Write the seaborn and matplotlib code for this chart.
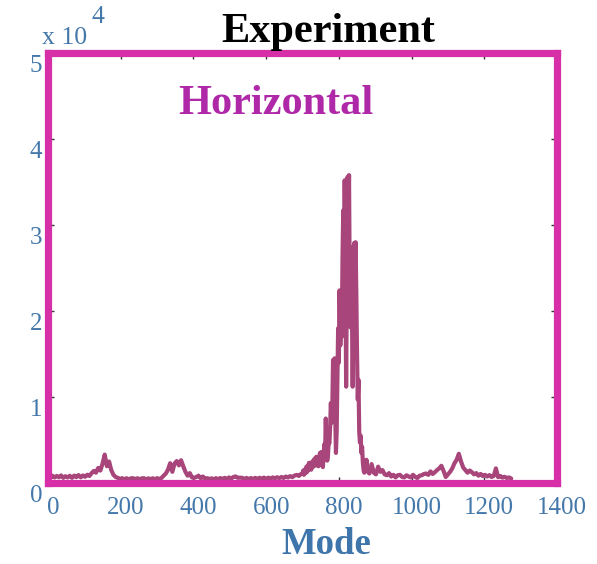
import numpy as np
import pandas as pd
import matplotlib
matplotlib.use("Agg")
import matplotlib.pyplot as plt
import matplotlib.transforms as mtransforms
from matplotlib.ticker import FuncFormatter
import seaborn as sns

# ---- data ----
# segment A: modes 0..696 step 6
seg_a_start, seg_a_step = 0, 6
seg_a_vals = [
    800, 580, 850, 640, 820, 660, 880, 600, 790, 640, 840, 600, 860, 680, 920, 660, 880, 720, 960, 820,
    1150, 1400, 1200, 1750, 1450, 2250, 3300, 1950, 2500, 1500, 950, 700, 600, 480,
    560, 440, 550, 430, 540, 560, 450, 550, 440, 540, 560, 430, 540, 450, 550, 440, 560, 470, 580,
    850, 1100, 1550, 2300, 1300, 2250, 2550, 2050, 2650, 1950, 1300, 850, 1150, 650, 600, 700, 850, 550, 750, 500,
    560, 470, 540, 450, 560, 450, 580, 460, 600, 480, 650, 520, 700, 760, 600, 620,
    600, 480, 590, 460, 580, 470, 600, 480, 610, 500, 630, 490, 620, 520, 650, 540, 670, 560, 700, 580,
    750, 640, 800, 680, 860, 940, 820, 1050,
]
# segment B: modes 700..880 step 2 (main peak)
seg_b_start, seg_b_step = 700, 2
seg_b_vals = [
    1100, 1450, 950, 1550, 1150, 1850, 1250, 2050, 1450, 2350,
    1650, 2150, 1550, 2450, 1850, 2650, 1950, 2850, 2150, 3050,
    2050, 2550, 1950, 2850, 3500, 2250, 3600, 2350, 1850, 3050,
    4500, 3200, 7500, 4000, 2600, 3200, 4800, 4600, 6500, 9300,
    7000, 8800, 14300, 9000, 14500, 8000, 3500, 6000, 12000, 18000,
    14000, 22400, 16000, 19000, 17000, 26000, 31700, 20000, 35200, 25000,
    11200, 24000, 35600, 30000, 35800, 22000, 18100, 27400, 20000, 11200,
    19000, 27900, 20000, 28000, 22100, 15000, 9700, 12000, 6000, 4700,
    5500, 3500, 4200, 2400, 1500, 1200, 1800, 1400, 2700, 1600,
    1300,
]
# segment C: modes 884..1274 step 6
seg_c_start, seg_c_step = 884, 6
seg_c_vals = [
    1100, 2200, 1200, 1000, 1900, 1300, 1500, 1000, 900, 1150,
    750, 950, 650, 900, 950, 700, 650, 900, 750, 650,
    950, 700, 580, 850, 900, 1050, 1100, 950, 1350, 1050,
    1250, 1500, 1700, 2000, 1400, 700, 1000, 1300, 1700, 2300,
    2700, 3400, 2500, 1800, 1500, 1200, 1450, 1250, 1000, 1150,
    850, 1050, 800, 950, 750, 920, 700, 820, 1700, 680,
    820, 620, 720, 580, 650, 520,
]
x_ticks = [0, 200, 400, 600, 800, 1000, 1200, 1400]
y_ticks = [0, 10000, 20000, 30000, 40000, 50000]

def seg(start, step, vals):
    return np.arange(start, start + step * len(vals), step)[: len(vals)]

modes = np.concatenate([seg(seg_a_start, seg_a_step, seg_a_vals),
                        seg(seg_b_start, seg_b_step, seg_b_vals),
                        seg(seg_c_start, seg_c_step, seg_c_vals)])
values = np.array(seg_a_vals + seg_b_vals + seg_c_vals, dtype=float)
df = pd.DataFrame({"Mode": modes, "Amplitude": values})

# ---- styling ----
sns.set_theme(style="white")
plt.rcParams["font.family"] = ["Liberation Serif", "DejaVu Serif"]

frame_col = "#D62FA8"
line_col = "#A8457A"
tick_col = "#4478AA"

fig = plt.figure(figsize=(5.97, 5.64), dpi=100)
ax = fig.add_axes([48 / 597, 1 - 483 / 564, (557 - 48) / 597, (483 - 53) / 564])

sns.lineplot(data=df, x="Mode", y="Amplitude", ax=ax, color=line_col,
             linewidth=3.0, estimator=None, sort=False)

ax.set_xlim(0, 1400)
ax.set_ylim(0, 50000)
ax.set_xticks(x_ticks)
ax.set_yticks(y_ticks)
ax.yaxis.set_major_formatter(FuncFormatter(lambda v, p: f"{v / 1e4:g}"))

for s in ax.spines.values():
    s.set_color(frame_col)
    s.set_linewidth(5.2)
    s.set_visible(True)

ax.tick_params(axis="both", which="both", direction="in", length=4, width=1,
               color="#333333", labelcolor=tick_col, labelsize=18,
               top=True, right=True, bottom=True, left=True)
ax.tick_params(axis="x", pad=10)
ax.tick_params(axis="y", pad=4)

# shift tick labels slightly as in the reference
dx = mtransforms.ScaledTranslation(5 / 100, 0, fig.dpi_scale_trans)
dy = mtransforms.ScaledTranslation(0, -11 / 100, fig.dpi_scale_trans)
for lab in ax.get_xticklabels():
    lab.set_transform(lab.get_transform() + dx)
for lab in ax.get_yticklabels():
    lab.set_transform(lab.get_transform() + dy)

ax.set_xlabel("Mode", fontsize=26.5, fontweight="bold", color="#3E75AA")
ax.xaxis.set_label_coords((326 - 48) / 509, -(545 - 483) / 430)
ax.xaxis.label.set_va("center")
ax.set_ylabel("")
ax.set_title("Experiment", fontsize=30.5, fontweight="bold", color="black",
             x=(328 - 48) / 509, pad=8)

ax.text(0.448, 0.882, "Horizontal", transform=ax.transAxes, ha="center", va="center",
        fontsize=30.5, fontweight="bold", color="#AF28A8")

fig.text(42 / 597, 1 - 38 / 564, "x 10", ha="left", va="center", fontsize=18.5, color=tick_col)
fig.text(92 / 597, 1 - 17 / 564, "4", ha="left", va="center", fontsize=18.5, color=tick_col)

fig.savefig("out.png", dpi=100)
